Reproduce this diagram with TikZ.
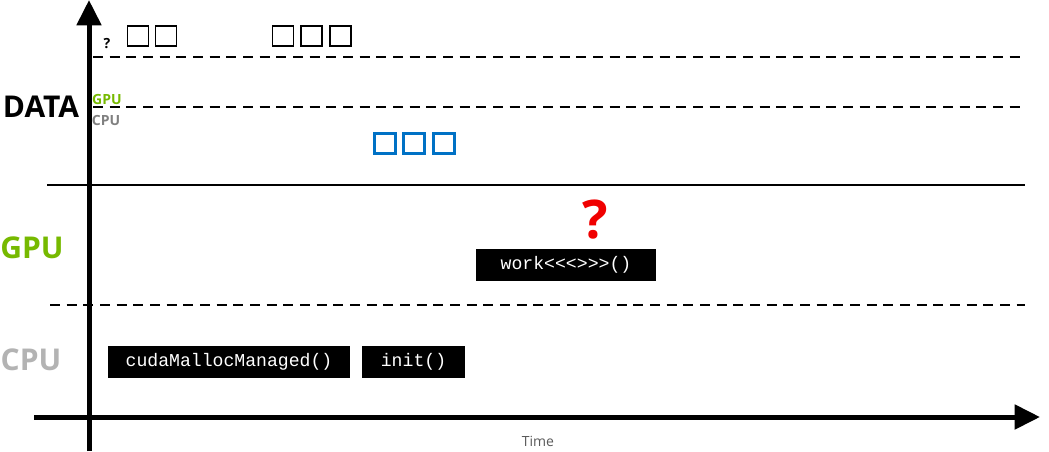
\documentclass[tikz,border=0pt]{standalone}
\usepackage{fontspec}
\setmainfont{Open Sans}
\setmonofont{Liberation Mono}
\usetikzlibrary{arrows.meta,positioning}
\definecolor{NvGreen}{RGB}{118, 185, 0}
\definecolor{CpuGray}{RGB}{179, 179, 179}
\definecolor{LabelGray}{RGB}{128, 128, 128}
\definecolor{TimeGray}{RGB}{90, 90, 90}
\definecolor{PageBlue}{RGB}{0, 113, 197}
\definecolor{QRed}{RGB}{240, 0, 0}

\begin{document}
\begin{tikzpicture}[x=0.75pt, y=-0.75pt,
    axis/.style={line width=3.75pt, -{Triangle[width=18pt,length=19pt]}},
    lane/.style={line width=1.5pt, dash pattern=on 7.5pt off 5pt},
    callbox/.style={rectangle, fill=black, text=white, minimum height=24pt, inner sep=0pt, font=\fontsize{13.6}{15}\ttfamily},
    pagebox/.style={rectangle, draw=black, line width=1.1pt, minimum width=15.5pt, minimum height=15pt, inner sep=0pt},
    gpupage/.style={rectangle, draw=PageBlue, line width=2.25pt, minimum width=15.5pt, minimum height=15.5pt, inner sep=0pt},
    rowlabel/.style={font=\fontsize{22.5}{26}\selectfont\bfseries, inner sep=0pt}
]
\useasboundingbox (0,0) rectangle (1049,451);

% Axes
\coordinate (ybot) at (89,451);
\coordinate (ytop) at (89,0);
\coordinate (xleft) at (34,417);
\coordinate (xright) at (1040,417);
\draw[axis] (ybot) -- (ytop);
\draw[axis] (xleft) -- (xright);
\node[font=\fontsize{10.5}{12}\selectfont, text=TimeGray] (time) at (538,441) {Time};

% Lanes
\coordinate (d1l) at (93,57);   \coordinate (d1r) at (1025,57);
\coordinate (d2l) at (93,107);  \coordinate (d2r) at (1025,107);
\coordinate (sl) at (47,185);   \coordinate (sr) at (1025,185);
\coordinate (d3l) at (50,305);  \coordinate (d3r) at (1025,305);
\draw[lane] (d1l) -- (d1r);
\draw[lane] (d2l) -- (d2r);
\draw[line width=1.5pt] (sl) -- (sr);
\draw[lane] (d3l) -- (d3r);

% Row labels
\node[rowlabel] (data) at (41,107) {DATA};
\node[rowlabel, text=NvGreen] (gpu) at (32,248) {GPU};
\node[rowlabel, text=CpuGray] (cpu) at (31,360) {CPU};
\node[font=\fontsize{10.5}{12}\selectfont\bfseries, text=NvGreen, inner sep=0pt] (gpumem) at (107,99) {GPU};
\node[font=\fontsize{10.5}{12}\selectfont\bfseries, text=LabelGray, inner sep=0pt] (cpumem) at (106,120) {CPU};

% Data pages
\node[font=\fontsize{10.5}{12}\selectfont\bfseries, inner sep=0pt] (unknown) at (107,44) {?};
\node[pagebox] (p1) at (138,36) {};
\node[pagebox] (p2) at (166,36) {};
\node[pagebox] (p3) at (283,36) {};
\node[pagebox] (p4) at (311.5,36) {};
\node[pagebox] (p5) at (340.5,36) {};
\node[gpupage] (g1) at (385,143.5) {};
\node[gpupage] (g2) at (414,143.5) {};
\node[gpupage] (g3) at (444,143.5) {};

% Calls
\node[callbox, minimum width=181.5pt] (malloc) at (229,362) {cudaMallocManaged()};
\node[callbox, minimum width=77.25pt] (init) at (413.5,362) {init()};
\node[callbox, minimum width=135pt] (work) at (566,265) {work<{}<{}<{}>{}>{}>()};
\node[font=\fontsize{40}{42}\selectfont\bfseries, text=QRed, inner sep=0pt] (fault) at (595,220) {?};

\end{tikzpicture}
\end{document}
